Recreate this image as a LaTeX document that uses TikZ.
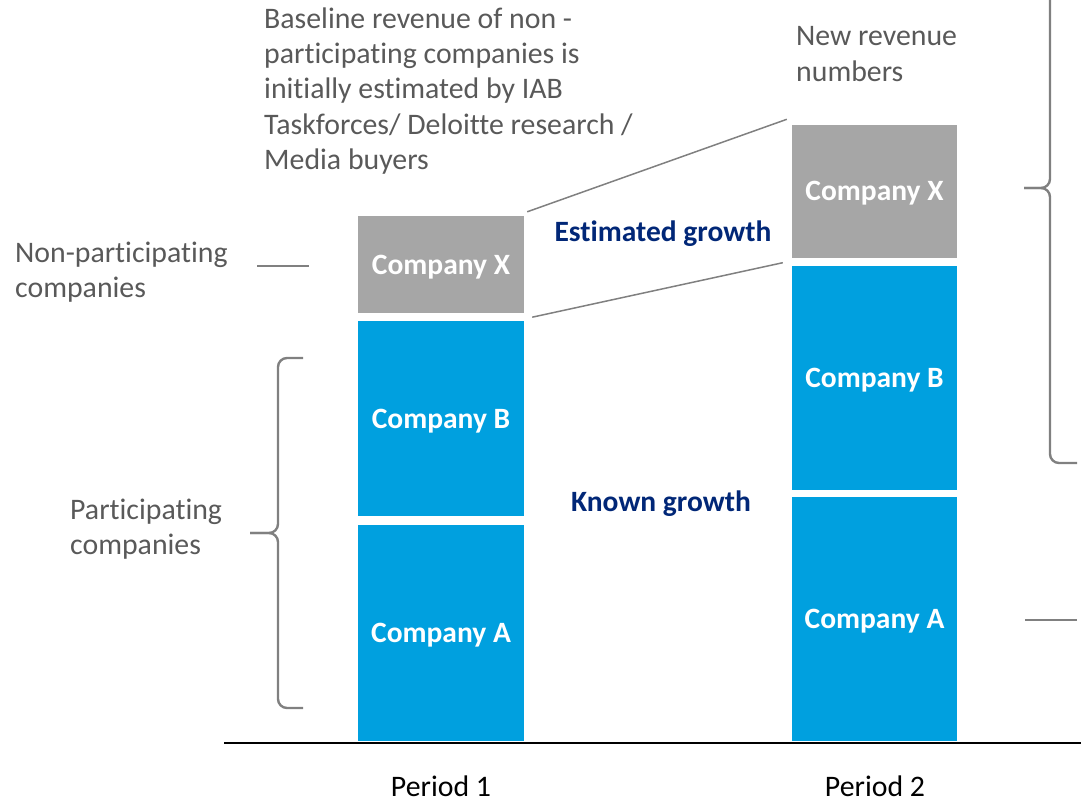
\documentclass[tikz,border=0pt]{standalone}
\usepackage{fontspec}
\setmainfont{Carlito}[Ligatures=NoCommon]
\definecolor{barblue}{HTML}{00A0DF}
\definecolor{bargray}{HTML}{A6A6A6}
\definecolor{labelgray}{HTML}{595959}
\definecolor{linegray}{HTML}{808080}
\definecolor{growthblue}{HTML}{012777}
\tikzset{
  bar/.style={fill=barblue, text=white, inner sep=0pt, text depth=0pt, font=\fontsize{29.5}{35}\selectfont\bfseries},
  xbar/.style={bar, fill=bargray},
  lbl/.style={text=labelgray, align=left, inner sep=0pt, font=\fontsize{29.8}{35.3}\selectfont},
  axislbl/.style={lbl, text=black, anchor=base, text depth=0pt},
  growth/.style={text=growthblue, inner sep=0pt, text depth=0pt, font=\fontsize{29.5}{35}\selectfont\bfseries},
  tie/.style={draw=linegray, line width=1.5pt},
  curly/.style={draw=linegray, line width=2.4pt, rounded corners=9pt}
}
\begin{document}
\begin{tikzpicture}[x=1pt,y=-1pt]
\useasboundingbox (0,0) rectangle (1081,798);
\node[bar, minimum width=166pt, minimum height=216pt] (p1a) at (441,633) {Company A};
\node[bar, minimum width=166pt, minimum height=195pt] (p1b) at (441,418.5) {Company B};
\node[xbar, minimum width=166pt, minimum height=97pt] (p1x) at (441,264.5) {Company X};
\node[bar, minimum width=165pt, minimum height=244pt] (p2a) at (874.5,619) {Company A};
\node[bar, minimum width=165pt, minimum height=224pt] (p2b) at (874.5,377.5) {Company B};
\node[xbar, minimum width=165pt, minimum height=133pt] (p2x) at (874.5,191) {Company X};
\draw[line width=1.6pt] (224,743) -- (1081,743);
\node[axislbl] (per1) at (441,796) {Period 1};
\node[axislbl] (per2) at (875,796) {Period 2};
\draw[tie] ([shift={(3,-4)}]p1x.north east) -- ([shift={(-5,-5)}]p2x.north west);
\draw[tie] ([shift={(8,4)}]p1x.south east) -- ([shift={(-9,5)}]p2x.south west);
\node[growth] (est) at (663,231) {Estimated growth};
\node[growth] (known) at (661,501) {Known growth};
\node[lbl, anchor=west] (base) at (264,91) {Baseline revenue of non -\\participating companies is\\initially estimated by IAB\\Taskforces/ Deloitte research /\\Media buyers};
\node[lbl, anchor=west] (newrev) at (796,54) {New revenue\\numbers};
\node[lbl, anchor=west] (nonpart) at (15,272) {Non-participating\\companies};
\node[lbl, anchor=west] (part) at (70,529) {Participating\\companies};
% side marks and braces
\draw[curly] (257,266) -- (309,266);
\draw[curly] (1025,620) -- (1077,620);
\draw[curly] (303,358) -- (278,358) -- (278,533) -- (250,533);
\draw[curly] (303,708) -- (278,708) -- (278,533) -- (250,533);
\draw[curly] (1077,463) -- (1050,463) -- (1050,188) -- (1024,188);
\draw[curly] (1077,-87) -- (1050,-87) -- (1050,188) -- (1024,188);
\end{tikzpicture}
\end{document}
